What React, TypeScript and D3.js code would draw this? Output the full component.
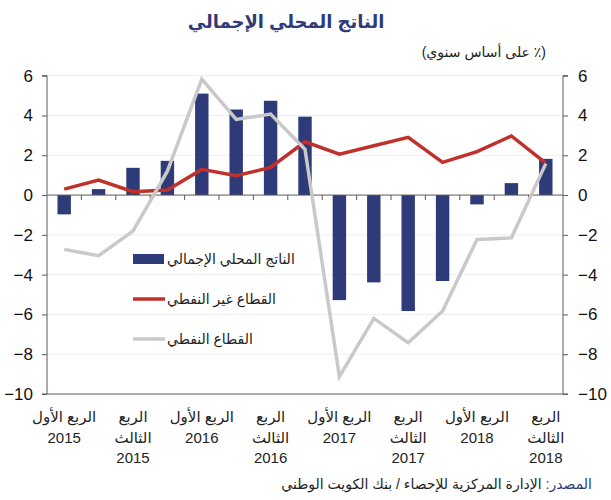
import React, { useRef, useEffect } from 'react';
import * as d3 from 'd3';

const quarters = [
  'Q1-15', 'Q2-15', 'Q3-15', 'Q4-15',
  'Q1-16', 'Q2-16', 'Q3-16', 'Q4-16',
  'Q1-17', 'Q2-17', 'Q3-17', 'Q4-17',
  'Q1-18', 'Q2-18', 'Q3-18'
];

const gdp = [-0.97, 0.3, 1.37, 1.72, 5.1, 4.3, 4.74, 3.94, -5.28, -4.39, -5.83, -4.32, -0.47, 0.6, 1.82];
const nonOil = [0.3, 0.75, 0.17, 0.25, 1.29, 0.97, 1.39, 2.68, 2.06, 2.48, 2.9, 1.64, 2.18, 2.97, 1.6];
const oil = [-2.73, -3.05, -1.81, 1.2, 5.83, 3.8, 4.07, 2.3, -9.13, -6.2, -7.42, -5.83, -2.23, -2.15, 1.58];

const yTicks = [-10, -8, -6, -4, -2, 0, 2, 4, 6];

// label lines for every other quarter (Q1 and Q3)
const xLabels: { q: string; lines: string[] }[] = [
  { q: 'Q1-15', lines: ['الربع الأول', '2015'] },
  { q: 'Q3-15', lines: ['الربع', 'الثالث', '2015'] },
  { q: 'Q1-16', lines: ['الربع الأول', '2016'] },
  { q: 'Q3-16', lines: ['الربع', 'الثالث', '2016'] },
  { q: 'Q1-17', lines: ['الربع الأول', '2017'] },
  { q: 'Q3-17', lines: ['الربع', 'الثالث', '2017'] },
  { q: 'Q1-18', lines: ['الربع الأول', '2018'] },
  { q: 'Q3-18', lines: ['الربع', 'الثالث', '2018'] }
];

const seriesNames = ['الناتج المحلي الإجمالي', 'القطاع غير النفطي', 'القطاع النفطي'];
const title = 'الناتج المحلي الإجمالي';
const unitLabel = '(٪ على أساس سنوي)';
const sourceHead = 'المصدر: ';
const sourceBody = 'الإدارة المركزية للإحصاء / بنك الكويت الوطني';

const NAVY = '#2f3b78';
const RED = '#c0312b';
const GREY = '#c9c9c9';
const AXIS = '#5a5a5a';
const FONT = "'Liberation Sans', Arial, 'DejaVu Sans', sans-serif";

export default function App() {
  const svgRef = useRef<SVGSVGElement>(null);

  useEffect(() => {
    const svg = d3.select(svgRef.current);
    svg.selectAll('*').remove();

    const width = 611;
    const height = 500;
    const left = 47;
    const right = 563;
    const top = 75.7;
    const bottom = 394;

    svg.attr('width', width).attr('height', height).style('font-family', FONT);

    const x = d3.scaleBand<string>().domain(quarters).range([left, right]).padding(0);
    const y = d3.scaleLinear().domain([-10, 6]).range([bottom, top]);
    const cx = (q: string) => (x(q) || 0) + x.bandwidth() / 2;
    const barW = x.bandwidth() * 0.39;

    // faint gridlines
    svg.append('g')
      .selectAll('line')
      .data(yTicks.filter(t => t !== -10 && t !== 0))
      .enter()
      .append('line')
      .attr('x1', left).attr('x2', right)
      .attr('y1', d => y(d)).attr('y2', d => y(d))
      .attr('stroke', '#eeeeee')
      .attr('stroke-width', 1);

    // bars
    svg.append('g')
      .selectAll('rect')
      .data(gdp)
      .enter()
      .append('rect')
      .attr('x', (d, i) => cx(quarters[i]) - barW / 2)
      .attr('y', d => y(Math.max(0, d)))
      .attr('width', barW)
      .attr('height', d => Math.abs(y(d) - y(0)))
      .attr('fill', NAVY);

    // zero line with band ticks
    svg.append('line')
      .attr('x1', left).attr('x2', right)
      .attr('y1', y(0)).attr('y2', y(0))
      .attr('stroke', AXIS).attr('stroke-width', 1);
    svg.append('g')
      .selectAll('line')
      .data(quarters.slice(1))
      .enter()
      .append('line')
      .attr('x1', d => x(d) || 0).attr('x2', d => x(d) || 0)
      .attr('y1', y(0)).attr('y2', y(0) + 5)
      .attr('stroke', AXIS).attr('stroke-width', 1);

    const line = d3.line<number>()
      .x((d, i) => cx(quarters[i]))
      .y(d => y(d));

    svg.append('path')
      .datum(nonOil)
      .attr('d', line)
      .attr('fill', 'none')
      .attr('stroke', RED)
      .attr('stroke-width', 3.5)
      .attr('stroke-linejoin', 'miter');

    svg.append('path')
      .datum(oil)
      .attr('d', line)
      .attr('fill', 'none')
      .attr('stroke', GREY)
      .attr('stroke-width', 3.5)
      .attr('stroke-linejoin', 'miter');

    // left / right axes
    const leftAxis = d3.axisLeft(y).tickValues(yTicks).tickSize(5).tickPadding(9).tickFormat(d3.format('d'));
    const rightAxis = d3.axisRight(y).tickValues(yTicks).tickSize(5).tickPadding(10).tickFormat(d3.format('d'));

    const styleAxis = (g: d3.Selection<SVGGElement, unknown, null, undefined>) => {
      g.select('.domain').attr('stroke', AXIS);
      g.selectAll('line').attr('stroke', AXIS);
      g.selectAll('text')
        .attr('fill', '#111')
        .style('font-size', '17px')
        .style('font-family', FONT);
    };

    const gl = svg.append('g').attr('transform', `translate(${left},0)`).call(leftAxis);
    gl.select('.domain').attr('d', `M-5,${top}H0V${bottom}H-5`);
    styleAxis(gl);

    const gr = svg.append('g').attr('transform', `translate(${right},0)`).call(rightAxis);
    gr.select('.domain').attr('d', `M5,${top}H0V${bottom}H5`);
    styleAxis(gr);

    // bottom axis line at -10
    svg.append('line')
      .attr('x1', left).attr('x2', right)
      .attr('y1', bottom).attr('y2', bottom)
      .attr('stroke', AXIS).attr('stroke-width', 1);

    // category labels
    const lab = svg.append('g')
      .selectAll('text')
      .data(xLabels)
      .enter()
      .append('text')
      .attr('text-anchor', 'middle')
      .attr('fill', '#222')
      .style('font-size', '15px');
    lab.each(function (d) {
      const t = d3.select(this);
      d.lines.forEach((s, k) => {
        t.append('tspan')
          .attr('x', cx(d.q))
          .attr('y', 422 + k * 20.5)
          .text(s);
      });
    });

    // legend
    const legY = [259, 299, 339];
    const lg = svg.append('g');
    lg.append('rect')
      .attr('x', 133).attr('y', legY[0] - 5)
      .attr('width', 31).attr('height', 10)
      .attr('fill', NAVY);
    lg.append('line')
      .attr('x1', 133).attr('x2', 165)
      .attr('y1', legY[1]).attr('y2', legY[1])
      .attr('stroke', RED).attr('stroke-width', 3.5);
    lg.append('line')
      .attr('x1', 133).attr('x2', 165)
      .attr('y1', legY[2]).attr('y2', legY[2])
      .attr('stroke', GREY).attr('stroke-width', 3.5);
    lg.selectAll('text')
      .data(seriesNames)
      .enter()
      .append('text')
      .attr('x', 167)
      .attr('y', (d, i) => legY[i] + 5)
      .attr('fill', '#222')
      .style('font-size', '14px')
      .text(d => d);

    // title and unit
    svg.append('text')
      .attr('x', 286).attr('y', 28)
      .attr('text-anchor', 'middle')
      .attr('fill', '#2f3b78')
      .style('font-size', '18px')
      .style('font-weight', 'bold')
      .text(title);

    svg.append('text')
      .attr('x', 546).attr('y', 57)
      .attr('direction', 'rtl')
      .attr('text-anchor', 'start')
      .attr('fill', '#222')
      .style('font-size', '14px')
      .text(unitLabel);

    // source line
    const src = svg.append('text')
      .attr('x', 592).attr('y', 489)
      .attr('direction', 'rtl')
      .attr('text-anchor', 'start')
      .attr('fill', '#222')
      .style('font-size', '14px');
    src.append('tspan').attr('fill', '#2f3b78').text(sourceHead);
    src.append('tspan').text(sourceBody);
  }, []);

  return (
    <div style={{ position: 'absolute', left: 0, top: 0 }}>
      <svg ref={svgRef} style={{ display: 'block', background: '#fff' }} />
    </div>
  );
}
